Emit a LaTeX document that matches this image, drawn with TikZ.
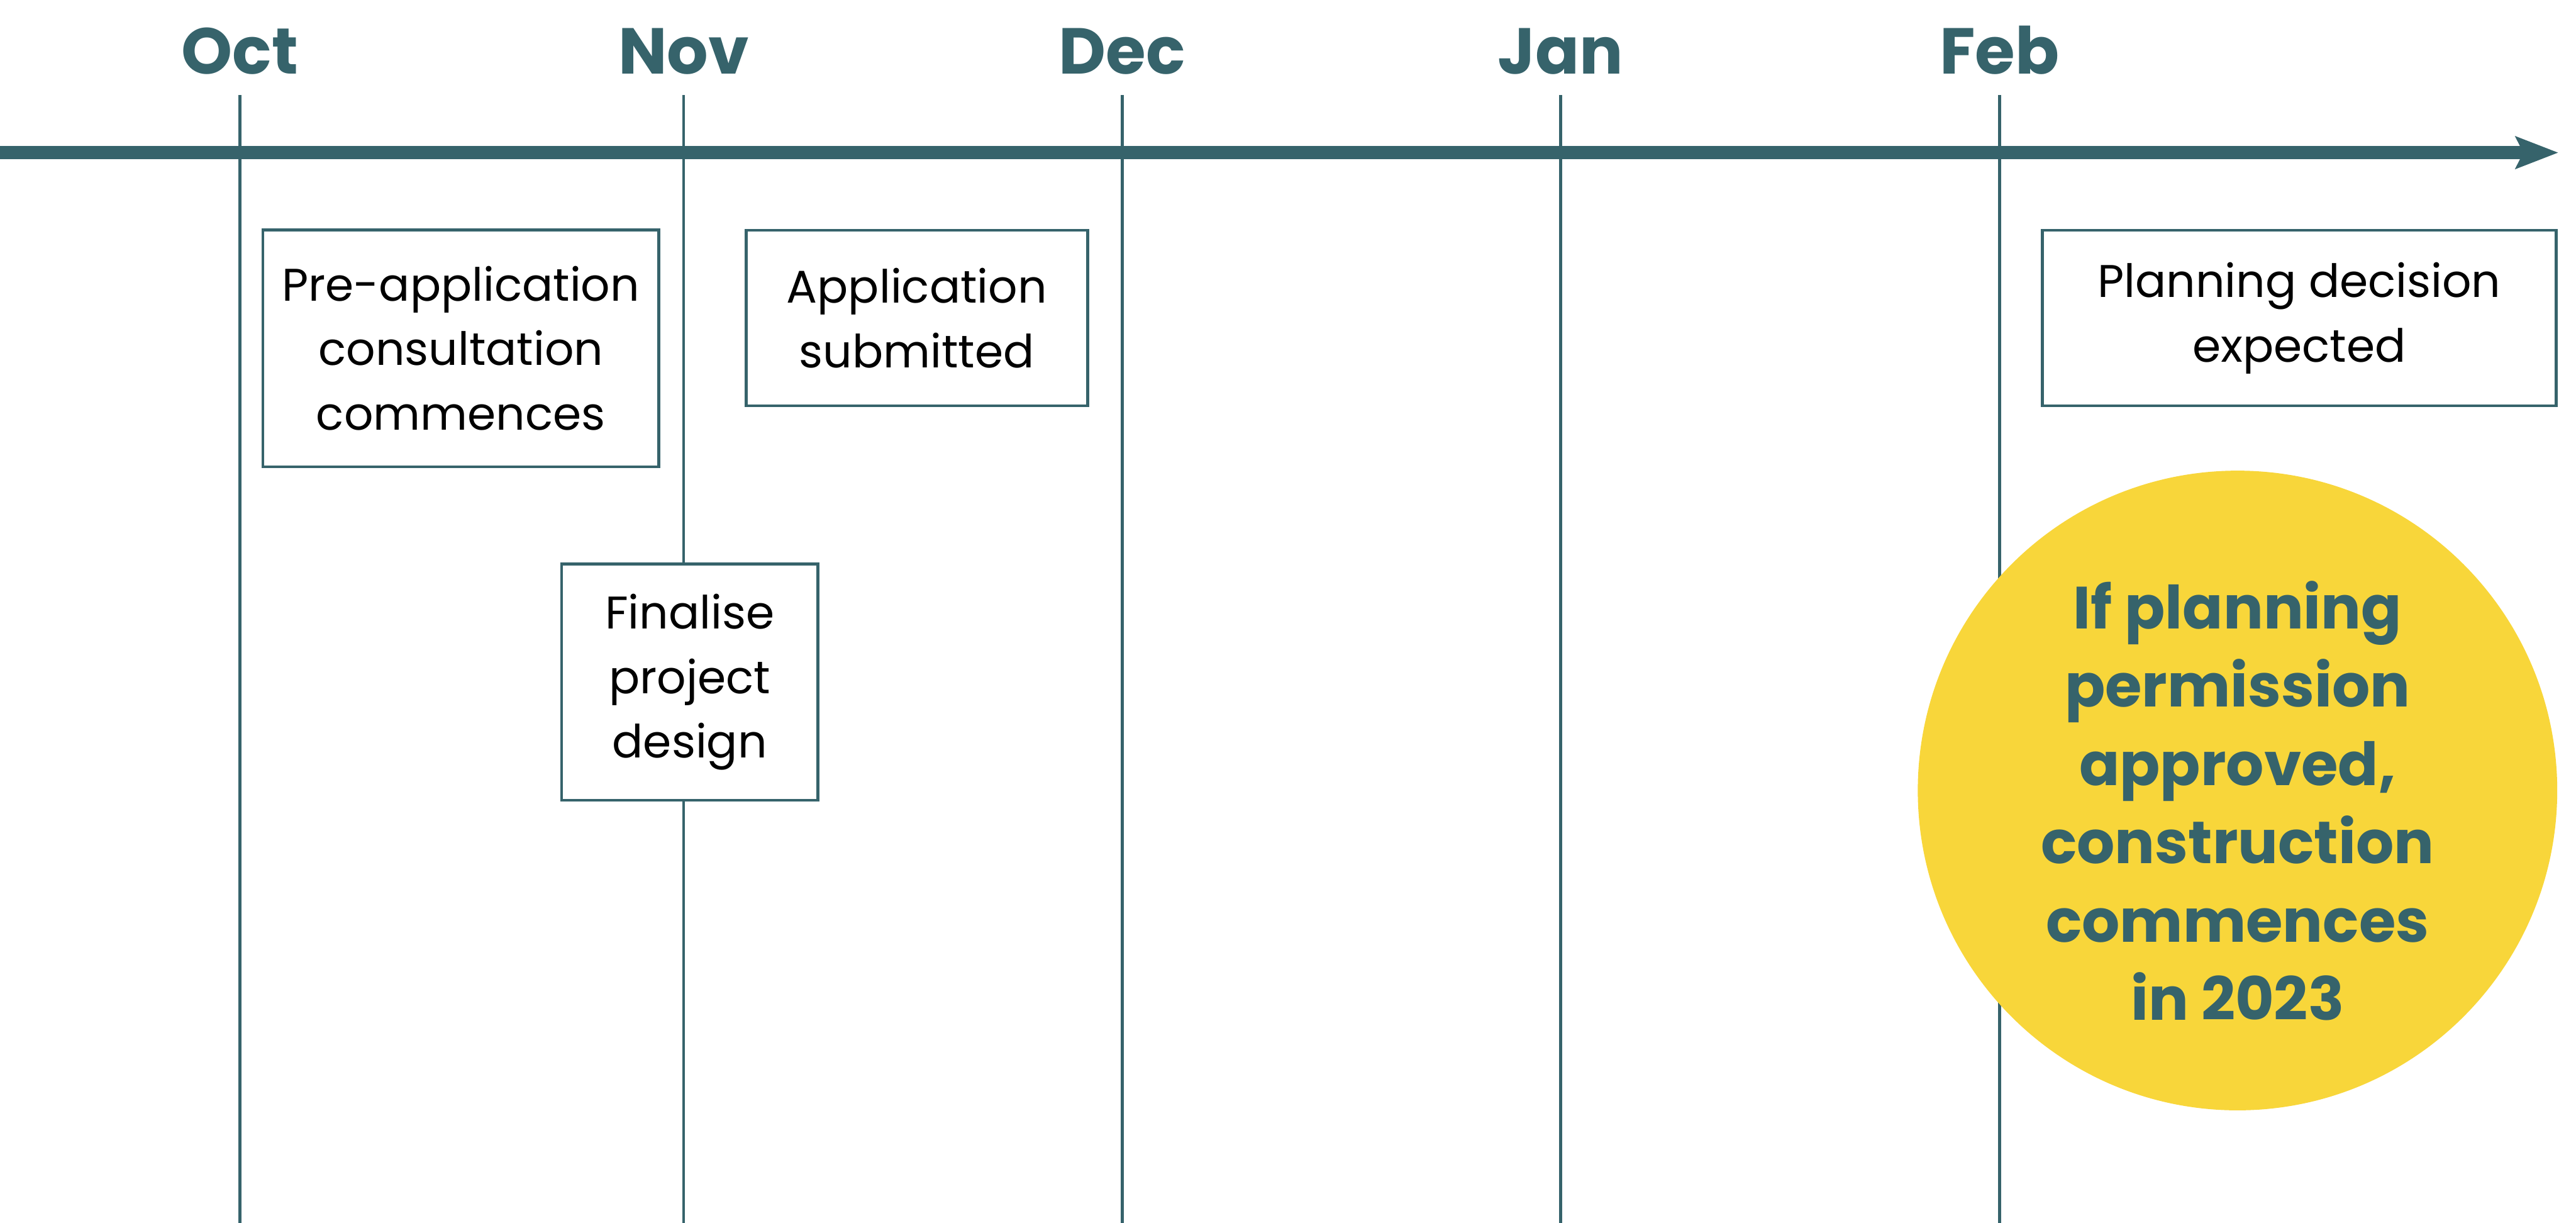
\documentclass[tikz,border=0pt]{standalone}
\usepackage{fontspec}
\setmainfont{Poppins}
\usetikzlibrary{arrows.meta,positioning}
\definecolor{pizarra}{RGB}{54,99,107}
\definecolor{amarillo}{RGB}{248,214,58}

\begin{document}
\begin{tikzpicture}
    % Estilos
    \tikzstyle{block} = [rectangle, draw=pizarra, line width=1.4pt, fill=white,
    align=center, inner sep=0pt, font=\fontsize{21.5}{30.4}\selectfont]
    \tikzstyle{month} = [text=pizarra, anchor=base, font=\fontsize{30.5}{30.5}\selectfont\bfseries]
    \tikzstyle{guia} = [draw=pizarra, line width=1.4pt]

    \useasboundingbox (0,0) rectangle (42.54,-20.19);

    % Meses y lineas verticales
    \foreach \name/\label/\x in {oct/Oct/3.96, nov/Nov/11.29, dic/Dec/18.53, ene/Jan/25.77, feb/Feb/33.02} {
        \node [month] (\name) at (\x,-1.22) {\label};
        \coordinate (\name-top) at (\x,-1.57);
        \coordinate (\name-bot) at (\x,-20.19);
        \draw [guia] (\name-top) -- (\name-bot);
    }

    % Eje del tiempo
    \coordinate (inicio) at (0,-2.52);
    \coordinate (fin) at (42.25,-2.52);
    \draw [pizarra, line width=0.22cm, -{Stealth[length=0.7cm, width=0.52cm, inset=0.12cm]}] (inicio) -- (fin);

    \node [block, minimum width=6.54cm, minimum height=3.91cm] (preapp) at (7.61,-5.75) {Pre-application\\consultation\\commences};
    \node [block, minimum width=5.64cm, minimum height=2.90cm] (solicitud) at (15.14,-5.25) {Application\\submitted};
    \node [block, minimum width=4.23cm, minimum height=3.90cm] (diseno) at (11.39,-11.26) {Finalise\\project\\design};
    \node [block, minimum width=8.49cm, minimum height=2.90cm] (decision) at (37.97,-5.25) {Planning decision\\expected};

    \node [circle, fill=amarillo, minimum size=10.56cm, inner sep=0pt] (permiso) at (36.95,-13.05) {};
    \node [align=center, text=pizarra, font=\fontsize{28}{36.8}\selectfont\bfseries] (permiso-texto)
    at ([yshift=-0.17cm]permiso.center)
    {If planning\\permission\\approved,\\construction\\commences\\in 2023};
\end{tikzpicture}
\end{document}
